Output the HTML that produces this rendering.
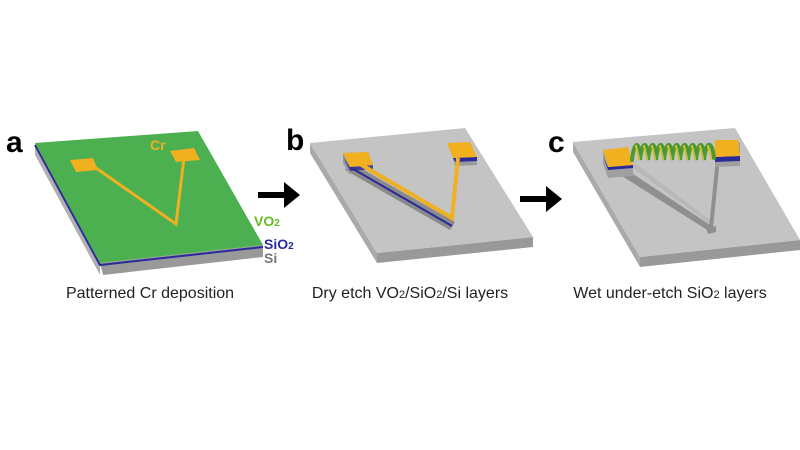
<!DOCTYPE html>
<html><head><meta charset="utf-8"><style>
body{margin:0;background:#fff;}
svg{display:block;font-family:"Liberation Sans",sans-serif;}
</style></head><body>
<svg width="800" height="450" viewBox="0 0 800 450">
<!-- Panel a -->
<text x="6" y="152" font-size="30" font-weight="bold">a</text>
<polygon points="35,143 100,263 100,275 35,155" fill="#b0b0b0"/>
<polygon points="100,263 263,245 263,257 103,275" fill="#999"/>
<polyline points="35,145 100,265 263,247" fill="none" stroke="#2a2a9a" stroke-width="2"/>
<polygon points="35,143 198,131 263,245 100,263" fill="#4caf50"/>
<polygon points="70,160 93,158 98,170 76,172" fill="#f0b020"/>
<polygon points="170,151 194,148 200,160 176,162" fill="#f0b020"/>
<polyline points="96,168 176,224 184,158" fill="none" stroke="#f0b020" stroke-width="3"/>
<text x="150" y="150" font-size="14" font-weight="bold" fill="#f0b020">Cr</text>
<text x="254" y="226" font-size="14" font-weight="bold" fill="#66bb22">VO<tspan font-size="10">2</tspan></text>
<text x="264" y="249" font-size="14" font-weight="bold" fill="#2a2aa0">SiO<tspan font-size="10">2</tspan></text>
<text x="264" y="263" font-size="14" font-weight="bold" fill="#777">Si</text>
<text x="150" y="298" font-size="16" text-anchor="middle" fill="#222">Patterned Cr deposition</text>
<!-- arrows -->
<polygon points="258,192 284,192 284,182 300,195 284,208 284,198 258,198" fill="#000"/>
<polygon points="520,196 546,196 546,186 562,199 546,212 546,202 520,202" fill="#000"/>
<!-- Panel b -->
<text x="286" y="150" font-size="30" font-weight="bold">b</text>
<polygon points="310,143 377,253 377,263 310,153" fill="#aaa"/>
<polygon points="377,253 533,237 533,247 377,263" fill="#999"/>
<polygon points="310,143 465,128 533,237 377,253" fill="#c4c4c4"/>
<polyline points="345,170 450,230 455,222 350,162" fill="#8a8a8a"/>
<polyline points="348,166 452,226" stroke="#2a2a9a" stroke-width="2" fill="none"/>
<polygon points="343,153 368,152 373,165 350,167 350,175 343,163" fill="#999"/>
<polygon points="343,157 350,171 373,169 373,165 350,167" fill="#2a2a9a" opacity=".8"/>
<polygon points="343,153 368,152 373,165 350,167" fill="#f0b020"/>
<polygon points="453,158 477,157 477,165 455,166" fill="#999"/>
<polygon points="453,158 477,157 477,161 455,162" fill="#2a2a9a"/>
<polygon points="447,143 470,142 477,157 453,158" fill="#f0b020"/>
<polyline points="360,164 452,218 458,158" fill="none" stroke="#f0b020" stroke-width="4"/>
<text x="410" y="298" font-size="16" text-anchor="middle" fill="#222">Dry etch VO<tspan font-size="11">2</tspan>/SiO<tspan font-size="11">2</tspan>/Si layers</text>
<!-- Panel c -->
<text x="548" y="152" font-size="30" font-weight="bold">c</text>
<polygon points="573,142 640,257 640,267 573,152" fill="#aaa"/>
<polygon points="640,257 800,240 800,250 640,267" fill="#999"/>
<polygon points="573,142 735,128 800,240 640,257" fill="#c4c4c4"/>
<polygon points="624,168 710,225 712,233 622,176" fill="#8f8f8f"/>
<polygon points="630,166 710,224 714,223 636,164" fill="#b8b8b8"/>
<polygon points="716,158 720,158 713,228 709,228" fill="#8f8f8f"/>
<polygon points="706,228 716,226 716,232 708,234" fill="#8f8f8f"/>
<polygon points="603,150 603,164 608,178 633,176 633,165 608,167" fill="#a0a0a0"/>
<polygon points="603,156 608,170 633,168 633,165 608,167" fill="#2a2a9a"/>
<polygon points="603,150 628,147 633,165 608,167" fill="#f0b020"/>
<polygon points="715,142 715,167 740,166 740,142" fill="#a0a0a0"/>
<polygon points="715,157 740,156 740,161 715,162" fill="#2a2a9a"/>
<polygon points="715,140 738,140 740,156 715,157" fill="#f0b020"/>
<g fill="none" stroke-linecap="round">
<path d="M632,160 C634,140 640,140 640,160 C642,140 648,140 648,160 C650,140 656,140 656,160 C658,140 664,140 664,160 C666,140 672,140 672,160 C674,140 680,140 680,160 C682,140 688,140 688,160 C690,140 696,140 696,160 C698,140 704,140 704,160 C706,140 712,140 714,158" stroke="#4a9a30" stroke-width="4"/>
<path d="M636,146 l3,13 M644,146 l3,13 M652,146 l3,13 M660,146 l3,13 M668,146 l3,13 M676,146 l3,13 M684,146 l3,13 M692,146 l3,13 M700,146 l3,13 M708,146 l3,13" stroke="#d8c040" stroke-width="2"/>
</g>
<text x="670" y="298" font-size="16" text-anchor="middle" fill="#222">Wet under-etch SiO<tspan font-size="11">2</tspan> layers</text>
</svg>
</body></html>
